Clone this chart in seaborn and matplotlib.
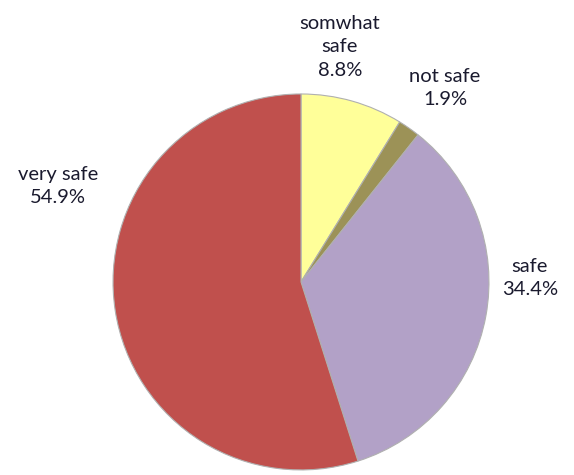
import matplotlib
matplotlib.use("Agg")
import matplotlib.pyplot as plt
import seaborn as sns

sns.set_style("white")
plt.rcParams['font.family'] = ['Lato', 'DejaVu Sans']

# données (sens horaire depuis midi)
categories = ['somwhat\nsafe', 'not safe', 'safe', 'very safe']
values = [8.8, 1.9, 34.4, 54.9]
colors = ['#FFFF99', '#9C9257', '#B2A1C7', '#C0504D']
# positions des étiquettes (centre de chaque bloc de texte)
label_pos = [(0.207, 1.25), (0.766, 1.03), (1.218, 0.02), (-1.293, 0.51)]

fig = plt.figure(figsize=(5.74, 4.75), dpi=100)
ax = fig.add_axes([0, 0, 1, 1])

wedges, _ = ax.pie(values, colors=colors, startangle=90, counterclock=False,
                   radius=1, wedgeprops=dict(edgecolor='#B0B0B0', linewidth=0.8))

for cat, val, (x, y) in zip(categories, values, label_pos):
    ax.text(x, y, f'{cat}\n{val:.1f}%', ha='center', va='center',
            fontsize=14.5, linespacing=1.45, color='#1a1a2e')

ax.set_xlim(-1.601, 1.452)
ax.set_ylim(-1.027, 1.5)
ax.set_aspect('equal')
ax.axis('off')

fig.savefig('out.png', dpi=100)
